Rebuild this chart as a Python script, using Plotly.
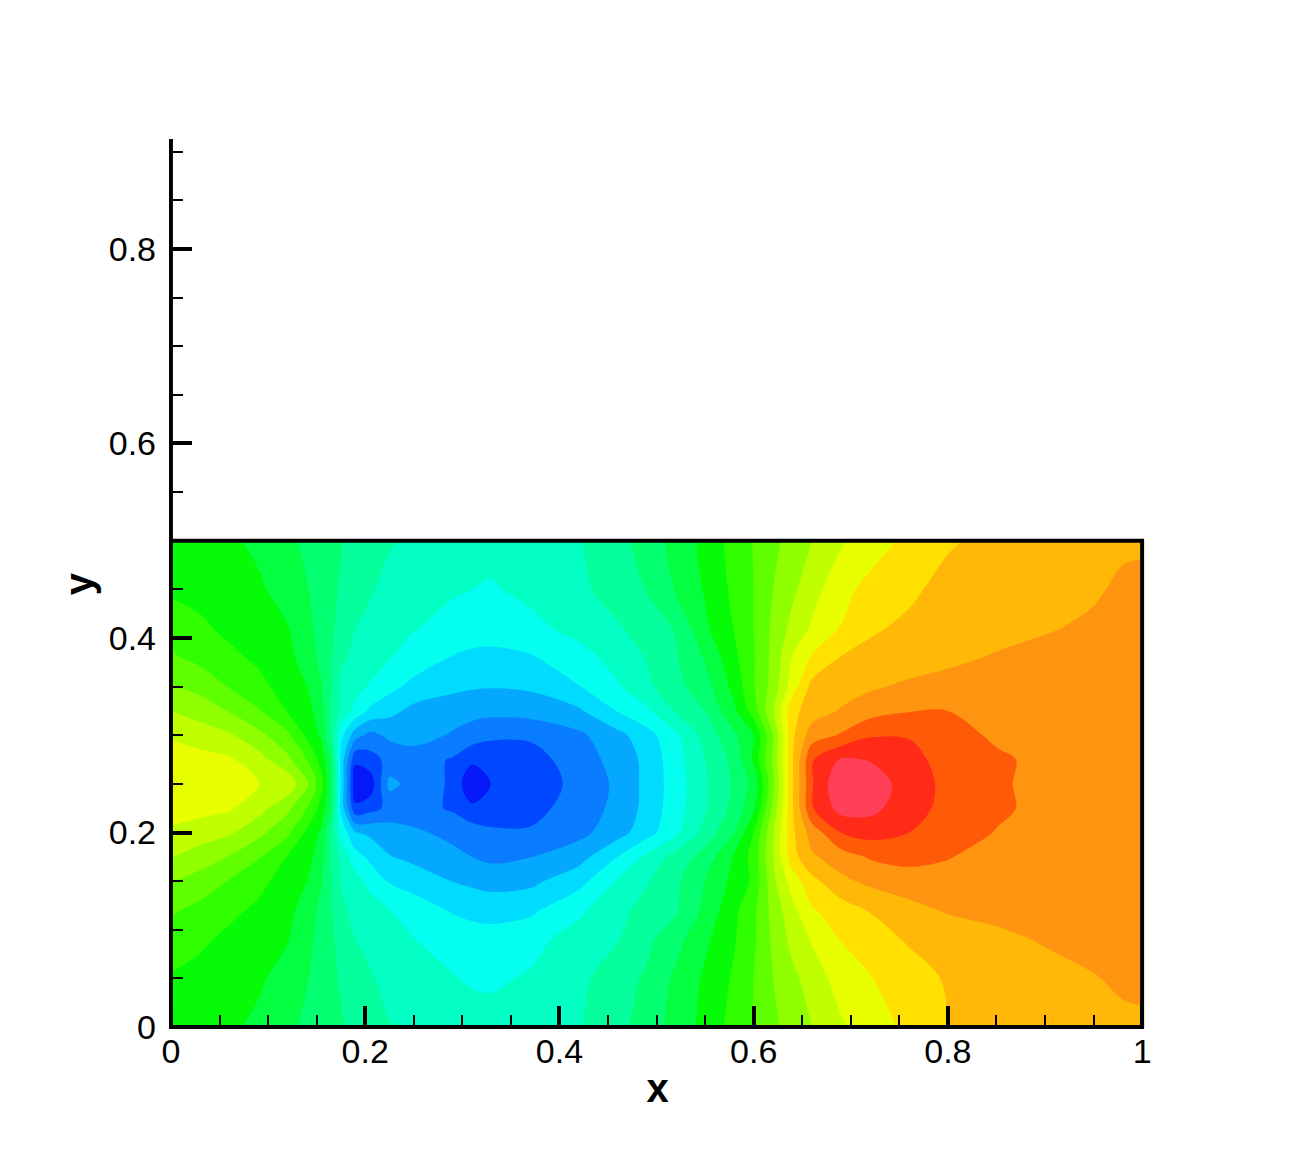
import plotly.graph_objects as go

x_nodes = [0, .03, .06, .09, .12, .14, .155, .165, .175, .19, .205, .225, .25, .29, .31, .33, .37, .42,
           .46, .49, .52, .55, .58, .60, .62, .64, .66, .69, .72, .76, .80, .85, .90, .95, .98, 1]
y_nodes = [0, .05, .09, .12, .15, .175, .20, .225, .25, .275, .30, .325, .35, .38, .41, .45, .50]

row_000 = [10.6,10.4,10.15,9.8,9.2,8.8,8.5,8.3,8.1,7.75,7.45,7.05,6.8,6.5,6.4,6.35,6.45,6.9,7.7,8.45,9.35,10.3,11.4,12.05,12.8,13.4,14.0,14.85,15.5,16.25,17.0,17.3,17.55,17.7,17.8,17.85]
row_050 = [10.9,10.65,10.4,10.15,9.6,9.05,8.6,8.2,7.9,7.5,7.1,6.7,6.45,6.05,5.9,5.85,6.1,6.75,7.55,8.15,9.2,10.15,11.15,12.0,13.0,13.75,14.45,15.45,15.95,16.6,17.1,17.35,17.6,17.95,18.15,18.2]
row_090 = [11.55,11.2,10.75,10.4,10.05,9.3,8.65,8.15,7.7,7.0,6.75,6.4,6.02,5.7,5.5,5.45,5.7,6.4,6.95,7.75,8.65,9.8,10.9,11.85,13.2,14.3,15.1,16.05,16.6,17.1,17.4,17.75,18.1,18.3,18.3,18.25]
row_120 = [12.15,11.7,11.25,10.8,10.25,9.6,8.7,8.1,7.2,6.75,6.45,6.02,5.55,4.9,4.7,4.6,4.8,5.8,6.7,7.35,7.9,9.25,10.75,11.8,13.35,14.7,15.9,16.5,17.05,17.7,18.1,18.3,18.35,18.35,18.3,18.25]
row_150 = [13.05,12.6,11.95,11.3,10.55,10.0,9.1,8.0,6.95,6.35,5.7,4.9,4.55,3.98,3.8,3.65,3.75,4.65,6.1,6.9,7.8,9.0,10.3,11.2,13.75,15.5,16.7,17.75,18.25,18.5,18.65,18.55,18.45,18.4,18.35,18.3]
row_175 = [14.05,13.5,12.95,12.1,10.95,10.5,9.3,7.9,6.7,5.45,4.75,4.05,3.75,3.25,3.0,2.75,2.98,3.6,5.0,6.2,7.4,8.4,10.1,11.4,14.0,16.6,17.85,18.55,19.1,19.35,19.05,18.65,18.5,18.45,18.4,18.4]
row_200 = [14.85,14.55,14.15,13.3,12.2,10.8,9.8,7.8,5.7,4.05,3.8,3.5,3.15,2.75,2.5,2.2,2.1,2.7,3.6,4.6,5.8,7.4,8.95,11.0,13.9,16.8,18.45,20.0,20.4,20.0,19.6,18.95,18.55,18.5,18.5,18.4]
row_225 = [15.4,15.3,15.12,14.4,13.25,12.0,10.6,8.7,4.7,1.2,1.6,2.3,2.5,1.85,1.25,1.3,1.7,2.4,3.3,4.3,5.6,6.9,8.3,9.8,13.3,16.9,19.9,21.4,21.3,20.4,19.7,19.2,18.7,18.5,18.5,18.4]
row_250 = [15.6,15.45,15.25,15.03,14.7,13.2,11.3,9.0,4.9,0.3,0.4,3.3,2.6,1.85,0.05,1.02,1.4,2.3,3.2,4.3,5.5,6.9,8.2,9.3,12.8,16.9,19.9,21.9,21.5,20.6,19.7,19.2,18.6,18.5,18.5,18.4]
row_275 = [15.4,15.3,15.15,14.4,13.25,12.0,10.6,8.7,4.7,1.2,1.6,2.3,2.5,1.9,1.25,1.3,1.5,2.6,3.3,4.3,5.6,7.0,8.3,10.2,13.2,16.9,19.9,21.1,20.95,20.25,19.7,19.2,18.7,18.5,18.5,18.4]
row_300 = [14.9,14.6,14.15,13.3,12.2,10.8,9.8,7.8,5.3,3.4,2.7,3.2,3.4,2.9,2.5,2.2,2.2,2.8,3.7,4.6,5.8,7.4,8.8,10.0,13.0,16.8,18.5,19.1,19.9,19.95,19.5,18.8,18.55,18.5,18.5,18.4]
row_325 = [14.0,13.5,12.95,12.1,10.95,10.5,9.3,7.9,6.7,5.7,4.8,4.3,3.7,3.4,3.35,3.3,3.4,3.85,5.05,5.8,7.1,8.0,9.8,11.5,13.9,16.7,17.5,18.1,18.6,18.95,19.0,18.75,18.5,18.45,18.4,18.35]
row_350 = [13.1,12.7,11.95,11.3,10.55,10.0,9.1,8.0,6.7,6.3,5.9,5.3,4.7,4.25,4.1,4.05,4.15,4.95,5.9,6.75,7.7,8.6,10.3,11.9,13.4,15.5,17.3,17.5,17.85,18.2,18.4,18.5,18.45,18.35,18.3,18.3]
row_380 = [12.15,11.7,11.25,10.8,10.25,9.6,8.7,8.1,7.2,6.75,6.45,6.05,5.6,4.95,4.75,4.7,4.9,5.6,6.4,7.05,7.9,9.1,10.75,11.9,13.3,15.05,16.1,17.05,17.2,17.45,17.75,18.1,18.35,18.35,18.3,18.25]
row_410 = [11.55,11.2,10.75,10.4,10.05,9.3,8.65,8.15,7.7,7.0,6.75,6.4,6.05,5.7,5.55,5.5,5.7,6.35,6.9,7.4,8.1,9.8,11.05,12.0,13.2,14.3,15.15,16.05,16.9,17.15,17.35,17.6,17.9,18.2,18.25,18.25]
row_450 = [10.85,10.65,10.4,10.15,9.6,9.05,8.6,8.2,7.9,7.5,7.1,6.7,6.45,6.1,6.0,5.9,6.25,6.8,7.4,8.05,9.1,10.1,11.25,12.0,13.0,13.8,14.6,15.7,16.3,16.85,17.25,17.45,17.6,17.85,18.2,18.25]
row_500 = [10.6,10.4,10.15,9.8,9.2,8.8,8.5,8.3,8.05,7.8,7.5,7.1,6.8,6.5,6.4,6.35,6.45,6.9,7.7,8.45,9.35,10.3,11.4,12.05,12.75,13.4,14.0,14.85,15.5,16.25,16.9,17.25,17.5,17.7,17.8,17.85]

z_rows = [row_000, row_050, row_090, row_120, row_150, row_175, row_200, row_225, row_250,
          row_275, row_300, row_325, row_350, row_380, row_410, row_450, row_500]

band_colors = ["#0418f8", "#0048ff", "#0a7cff", "#04a8ff", "#00dcff", "#04fff0", "#04ffc4", "#04ff9c",
               "#04ff70", "#04ff40", "#06fb06", "#30ff00", "#60ff00", "#90ff00", "#c0ff00", "#e8ff00",
               "#ffe000", "#ffb808", "#ff9410", "#ff5a08", "#ff2a18", "#ff4058"]
n = len(band_colors)
scale = []
for i, c in enumerate(band_colors):
    scale += [[i / n, c], [(i + 1) / n, c]]

frame_x = [0, 1, 1]
frame_y = [0.5, 0.5, 0]
left_spine_x = [0, 0]
left_spine_y = [-0.002, 0.913]
bottom_spine_x = [-0.002, 1.002]
bottom_spine_y = [0, 0]

fig = go.Figure()
fig.add_trace(go.Contour(
    x=x_nodes, y=y_nodes, z=z_rows,
    zmin=0, zmax=n, zauto=False,
    autocontour=False,
    contours=dict(start=0, end=n, size=1, coloring="fill", showlines=False),
    line=dict(width=0, smoothing=1),
    colorscale=scale, showscale=False, hoverinfo="skip",
))
for lx, ly in [(frame_x, frame_y), (left_spine_x, left_spine_y), (bottom_spine_x, bottom_spine_y)]:
    fig.add_trace(go.Scatter(x=lx, y=ly, mode="lines", line=dict(color="black", width=4),
                             showlegend=False, hoverinfo="skip"))

axis_common = dict(
    showgrid=False, zeroline=False, showline=False,
    ticks="inside", ticklen=23, tickwidth=4, tickcolor="black",
    tick0=0, dtick=0.2,
    minor=dict(ticks="inside", ticklen=14, tickwidth=1.5, tickcolor="black", dtick=0.05, tick0=0, showgrid=False),
    tickfont=dict(family="Liberation Sans", size=34, color="black"),
    layer="above traces",
)
fig.update_layout(
    width=1300, height=1156, autosize=False,
    margin=dict(l=169, r=154, t=139, b=127, pad=0),
    paper_bgcolor="white", plot_bgcolor="white", showlegend=False,
    xaxis=dict(range=[-0.002, 1.004], title=dict(text="<b>x</b>", font=dict(family="Liberation Sans", size=40, color="black"), standoff=4),
               ticklabelstandoff=-1, tickformat="~g", **axis_common),
    yaxis=dict(range=[-0.002, 0.913], title=dict(text="<b>y</b>", font=dict(family="Liberation Sans", size=40, color="black"), standoff=2),
               ticklabelstandoff=12, tickformat="~g", **axis_common),
)
fig.write_html("out.html", config=dict(displayModeBar=False), post_script="document.body.style.margin='0';")
